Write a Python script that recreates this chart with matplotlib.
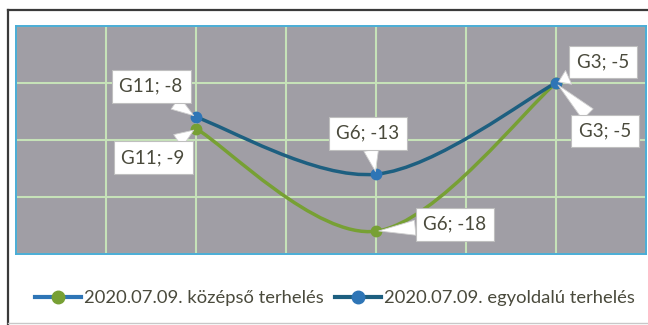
import numpy as np
import matplotlib.pyplot as plt
from matplotlib.path import Path
from matplotlib.patches import PathPatch
from matplotlib.lines import Line2D

plt.rcParams['font.family'] = ['Lato', 'DejaVu Sans']

# data
cats = ['G11', 'G6', 'G3']
xpos = [2, 4, 6]
kozepso = [-9, -18, -5]
egyoldalu = [-8, -13, -5]
names = ['2020.07.09. középső terhelés', '2020.07.09. egyoldalú terhelés']

green = '#77A034'
dark_blue = '#1D5F80'
blue = '#2E75B6'
txt_col = '#4A4A3C'


def smooth_path(xs, ys):
    # excel-like smoothed line: cubic bezier through the points
    p = np.column_stack([xs, ys]).astype(float)
    n = len(p)
    verts = [p[0]]
    codes = [Path.MOVETO]
    for i in range(n - 1):
        p0 = p[max(i - 1, 0)]
        p3 = p[min(i + 2, n - 1)]
        c1 = p[i] + (p[i + 1] - p0) / 6
        c2 = p[i + 1] - (p3 - p[i]) / 6
        verts += [c1, c2, p[i + 1]]
        codes += [Path.CURVE4] * 3
    return Path(verts, codes)


fig = plt.figure(figsize=(6.48, 3.25), dpi=100)
W, H = 648, 325

# outer chart border
fig.add_artist(Line2D([8 / W, 8 / W], [0, 1 - 10 / H], color='#3A3A3A', lw=1.6))
fig.add_artist(Line2D([8 / W, 1], [1 - 10 / H, 1 - 10 / H], color='#3A3A3A', lw=1.6))
fig.add_artist(Line2D([8 / W, 1], [2 / H, 2 / H], color='#C8C8C8', lw=1.0))

ax = fig.add_axes([16 / W, 71 / H, 630 / W, 228 / H])
ax.set_facecolor('#A09EA5')
ax.set_xlim(0, 7)
ax.set_ylim(-20, 0)
ax.set_xticks(np.arange(0, 8, 1))
ax.set_yticks(np.arange(-20, 1, 5))
ax.grid(True, color='#C6E2B8', lw=1.5)
ax.tick_params(length=0, labelbottom=False, labelleft=False)
for s in ax.spines.values():
    s.set_color('#4AADD6')
    s.set_linewidth(1.4)

ax.add_patch(PathPatch(smooth_path(xpos, kozepso), fill=False, ec=green, lw=2.5, zorder=3))
ax.add_patch(PathPatch(smooth_path(xpos, egyoldalu), fill=False, ec=dark_blue, lw=2.5, zorder=3))
ax.plot(xpos, kozepso, 'o', color=green, ms=7.5, zorder=4)
ax.plot(xpos, egyoldalu, 'o', color=blue, ms=7.5, zorder=4)

# callout offsets in pixels
off_k = [(-43, -29), (79, 7), (49, -48)]
off_e = [(-45, 31), (-8, 41), (47, 21)]

for vals, offs in [(kozepso, off_k), (egyoldalu, off_e)]:
    for x, y, c, o in zip(xpos, vals, cats, offs):
        ax.annotate(f'{c}; {y}', (x, y), xytext=o, textcoords='offset pixels',
                    ha='center', va='center', fontsize=13.5, color=txt_col, zorder=6,
                    bbox=dict(boxstyle='square,pad=0.42', fc='white', ec='#BFBFBF', lw=0.8),
                    arrowprops=dict(arrowstyle='wedge,tail_width=0.8,shrink_factor=0.5',
                                    fc='white', ec='#D0D0D0', lw=0.6, shrinkA=0, shrinkB=2))

handles = [
    Line2D([], [], color=blue, lw=3, marker='o', ms=9, mfc=green, mec=green),
    Line2D([], [], color=dark_blue, lw=3, marker='o', ms=9, mfc=blue, mec=blue),
]
fig.legend(handles, names, loc='center', bbox_to_anchor=(335 / W, 1 - 298 / H), ncol=2,
           frameon=False, fontsize=13.2, handlelength=2.5, handletextpad=0.2,
           columnspacing=0.6, labelcolor=txt_col)

fig.savefig('out.png', dpi=100)
